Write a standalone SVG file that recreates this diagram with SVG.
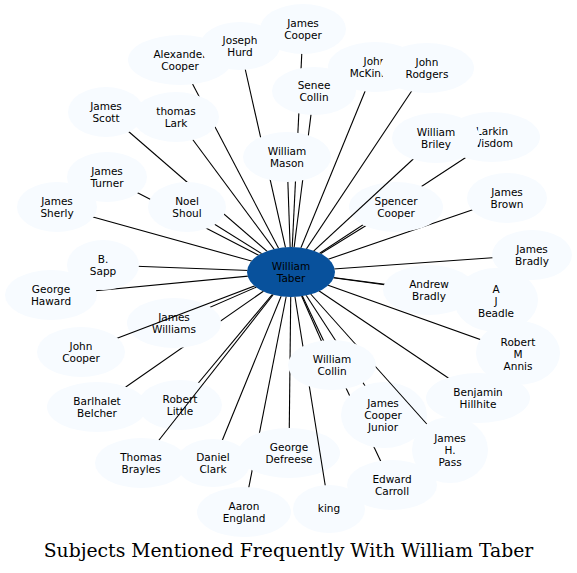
<svg xmlns="http://www.w3.org/2000/svg" width="577" height="573" viewBox="0 0 577 573">
<style>
.n ellipse{fill:#f7fbff;stroke:none}
.n text{font-family:"DejaVu Sans","Liberation Sans",sans-serif;font-size:10.5px;text-anchor:middle;fill:#000}
#taber ellipse{fill:#08519c}
.e line{stroke:#000;stroke-width:1.1;fill:none}
.title{font-family:"DejaVu Serif","Liberation Serif",serif;font-size:18.8px;text-anchor:middle;fill:#000}
</style>
<defs>
<mask id="mAll" maskUnits="userSpaceOnUse" x="0" y="0" width="577" height="573">
<rect width="577" height="573" fill="#fff"/>
<g fill="#000">
<ellipse cx="291" cy="272" rx="44" ry="25"/>
<ellipse cx="180" cy="60" rx="52" ry="25"/>
<ellipse cx="240" cy="46" rx="40" ry="24"/>
<ellipse cx="303" cy="29" rx="43" ry="25"/>
<ellipse cx="314" cy="91" rx="42" ry="24"/>
<ellipse cx="287" cy="157" rx="44" ry="25"/>
<ellipse cx="375" cy="67" rx="47" ry="25"/>
<ellipse cx="427" cy="68" rx="47" ry="25"/>
<ellipse cx="106" cy="112" rx="38" ry="25"/>
<ellipse cx="107" cy="177" rx="40" ry="25"/>
<ellipse cx="176" cy="117" rx="43" ry="25"/>
<ellipse cx="187" cy="207" rx="39" ry="25"/>
<ellipse cx="57" cy="207" rx="40" ry="25"/>
<ellipse cx="492" cy="137" rx="48" ry="25"/>
<ellipse cx="396" cy="207" rx="47" ry="25"/>
<ellipse cx="436" cy="138" rx="44" ry="25"/>
<ellipse cx="507" cy="198" rx="40" ry="25"/>
<ellipse cx="532" cy="255" rx="40" ry="25"/>
<ellipse cx="496" cy="300" rx="42" ry="32"/>
<ellipse cx="429" cy="290" rx="46" ry="25"/>
<ellipse cx="518" cy="353" rx="42" ry="32"/>
<ellipse cx="478" cy="398" rx="52" ry="25"/>
<ellipse cx="392" cy="485" rx="45" ry="25"/>
<ellipse cx="384" cy="415" rx="43" ry="33"/>
<ellipse cx="450" cy="450" rx="38" ry="33"/>
<ellipse cx="244" cy="512" rx="47" ry="25"/>
<ellipse cx="289" cy="453" rx="51" ry="25"/>
<ellipse cx="329" cy="509" rx="36" ry="24"/>
<ellipse cx="332" cy="365" rx="44" ry="25"/>
<ellipse cx="213" cy="463" rx="37" ry="24"/>
<ellipse cx="180" cy="405" rx="42" ry="25"/>
<ellipse cx="141" cy="463" rx="46" ry="25"/>
<ellipse cx="97" cy="407" rx="50" ry="25"/>
<ellipse cx="174" cy="323" rx="47" ry="25"/>
<ellipse cx="81" cy="352" rx="44" ry="25"/>
<ellipse cx="51" cy="295" rx="46" ry="25"/>
<ellipse cx="103" cy="265" rx="36" ry="25"/>
</g>
</mask>
<mask id="mTop" maskUnits="userSpaceOnUse" x="0" y="0" width="577" height="573">
<rect width="577" height="573" fill="#fff"/>
<g fill="#000">
<ellipse cx="291" cy="272" rx="44" ry="25"/>
<ellipse cx="332" cy="365" rx="44" ry="25"/>
<ellipse cx="450" cy="450" rx="38" ry="33"/>
<ellipse cx="329" cy="509" rx="36" ry="24"/>
<ellipse cx="81" cy="352" rx="44" ry="25"/>
<ellipse cx="141" cy="463" rx="46" ry="25"/>
<ellipse cx="436" cy="138" rx="44" ry="25"/>
</g>
</mask>
</defs>
<rect width="577" height="573" fill="#fff"/>
<g id="nodes">
<g id="n-alexander-cooper" class="n"><ellipse cx="180" cy="60" rx="52" ry="25"/><text x="180" y="57.5">Alexander</text><text x="180" y="69.5">Cooper</text></g>
<g id="n-joseph-hurd" class="n"><ellipse cx="240" cy="46" rx="40" ry="24"/><text x="240" y="43.5">Joseph</text><text x="240" y="55.5">Hurd</text></g>
<g id="n-james-cooper" class="n"><ellipse cx="303" cy="29" rx="43" ry="25"/><text x="303" y="26.5">James</text><text x="303" y="38.5">Cooper</text></g>
<g id="n-senee-collin" class="n"><ellipse cx="314" cy="91" rx="42" ry="24"/><text x="314" y="88.5">Senee</text><text x="314" y="100.5">Collin</text></g>
<g id="n-william-mason" class="n"><ellipse cx="287" cy="157" rx="44" ry="25"/><text x="287" y="154.5">William</text><text x="287" y="166.5">Mason</text></g>
<g id="n-john-mckinney" class="n"><ellipse cx="375" cy="67" rx="47" ry="25"/><text x="375" y="64.5">John</text><text x="375" y="76.5">McKinney</text></g>
<g id="n-john-rodgers" class="n"><ellipse cx="427" cy="68" rx="47" ry="25"/><text x="427" y="65.5">John</text><text x="427" y="77.5">Rodgers</text></g>
<g id="n-james-scott" class="n"><ellipse cx="106" cy="112" rx="38" ry="25"/><text x="106" y="109.5">James</text><text x="106" y="121.5">Scott</text></g>
<g id="n-james-turner" class="n"><ellipse cx="107" cy="177" rx="40" ry="25"/><text x="107" y="174.5">James</text><text x="107" y="186.5">Turner</text></g>
<g id="n-thomas-lark" class="n"><ellipse cx="176" cy="117" rx="43" ry="25"/><text x="176" y="114.5">thomas</text><text x="176" y="126.5">Lark</text></g>
<g id="n-noel-shoul" class="n"><ellipse cx="187" cy="207" rx="39" ry="25"/><text x="187" y="204.5">Noel</text><text x="187" y="216.5">Shoul</text></g>
<g id="n-james-sherly" class="n"><ellipse cx="57" cy="207" rx="40" ry="25"/><text x="57" y="204.5">James</text><text x="57" y="216.5">Sherly</text></g>
<g id="n-larkin-wisdom" class="n"><ellipse cx="492" cy="137" rx="48" ry="25"/><text x="492" y="134.5">Larkin</text><text x="492" y="146.5">Wisdom</text></g>
<g id="n-spencer-cooper" class="n"><ellipse cx="396" cy="207" rx="47" ry="25"/><text x="396" y="204.5">Spencer</text><text x="396" y="216.5">Cooper</text></g>
<g id="n-william-briley" class="n"><ellipse cx="436" cy="138" rx="44" ry="25"/><text x="436" y="135.5">William</text><text x="436" y="147.5">Briley</text></g>
<g id="n-james-brown" class="n"><ellipse cx="507" cy="198" rx="40" ry="25"/><text x="507" y="195.5">James</text><text x="507" y="207.5">Brown</text></g>
<g id="n-james-bradly" class="n"><ellipse cx="532" cy="255" rx="40" ry="25"/><text x="532" y="252.5">James</text><text x="532" y="264.5">Bradly</text></g>
<g id="n-a-j-beadle" class="n"><ellipse cx="496" cy="300" rx="42" ry="32"/><text x="496" y="292.5">A</text><text x="496" y="304.5">J</text><text x="496" y="316.5">Beadle</text></g>
<g id="n-andrew-bradly" class="n"><ellipse cx="429" cy="290" rx="46" ry="25"/><text x="429" y="287.5">Andrew</text><text x="429" y="299.5">Bradly</text></g>
<g id="n-robert-m-annis" class="n"><ellipse cx="518" cy="353" rx="42" ry="32"/><text x="518" y="345.5">Robert</text><text x="518" y="357.5">M</text><text x="518" y="369.5">Annis</text></g>
<g id="n-benjamin-hillhite" class="n"><ellipse cx="478" cy="398" rx="52" ry="25"/><text x="478" y="395.5">Benjamin</text><text x="478" y="407.5">Hillhite</text></g>
<g id="n-edward-carroll" class="n"><ellipse cx="392" cy="485" rx="45" ry="25"/><text x="392" y="482.5">Edward</text><text x="392" y="494.5">Carroll</text></g>
<g id="n-james-cooper-junior" class="n"><ellipse cx="384" cy="415" rx="43" ry="33"/><text x="383" y="406.5">James</text><text x="383" y="418.5">Cooper</text><text x="383" y="430.5">Junior</text></g>
<g id="n-james-h-pass" class="n"><ellipse cx="450" cy="450" rx="38" ry="33"/><text x="450" y="441.5">James</text><text x="450" y="453.5">H.</text><text x="450" y="465.5">Pass</text></g>
<g id="n-aaron-england" class="n"><ellipse cx="244" cy="512" rx="47" ry="25"/><text x="244" y="509.5">Aaron</text><text x="244" y="521.5">England</text></g>
<g id="n-george-defreese" class="n"><ellipse cx="289" cy="453" rx="51" ry="25"/><text x="289" y="450.5">George</text><text x="289" y="462.5">Defreese</text></g>
<g id="n-king" class="n"><ellipse cx="329" cy="509" rx="36" ry="24"/><text x="329" y="512">king</text></g>
<g id="n-william-collin" class="n"><ellipse cx="332" cy="365" rx="44" ry="25"/><text x="332" y="362.5">William</text><text x="332" y="374.5">Collin</text></g>
<g id="n-daniel-clark" class="n"><ellipse cx="213" cy="463" rx="37" ry="24"/><text x="213" y="460.5">Daniel</text><text x="213" y="472.5">Clark</text></g>
<g id="n-robert-little" class="n"><ellipse cx="180" cy="405" rx="42" ry="25"/><text x="180" y="402.5">Robert</text><text x="180" y="414.5">Little</text></g>
<g id="n-thomas-brayles" class="n"><ellipse cx="141" cy="463" rx="46" ry="25"/><text x="141" y="460.5">Thomas</text><text x="141" y="472.5">Brayles</text></g>
<g id="n-barlhalet-belcher" class="n"><ellipse cx="97" cy="407" rx="50" ry="25"/><text x="97" y="404.5">Barlhalet</text><text x="97" y="416.5">Belcher</text></g>
<g id="n-james-williams" class="n"><ellipse cx="174" cy="323" rx="47" ry="25"/><text x="174" y="320.5">James</text><text x="174" y="332.5">Williams</text></g>
<g id="n-john-cooper" class="n"><ellipse cx="81" cy="352" rx="44" ry="25"/><text x="81" y="349.5">John</text><text x="81" y="361.5">Cooper</text></g>
<g id="n-george-haward" class="n"><ellipse cx="51" cy="295" rx="46" ry="25"/><text x="51" y="292.5">George</text><text x="51" y="304.5">Haward</text></g>
<g id="n-b-sapp" class="n"><ellipse cx="103" cy="265" rx="36" ry="25"/><text x="103" y="262.5">B.</text><text x="103" y="274.5">Sapp</text></g>
<g id="taber" class="n"><ellipse cx="291" cy="272" rx="44" ry="25"/><text x="291" y="269.5">William</text><text x="291" y="281.5">Taber</text></g>
</g>
<g id="connectors" class="e">
<g mask="url(#mAll)">
<line x1="291" y1="272" x2="180" y2="60"/>
<line x1="291" y1="272" x2="240" y2="46"/>
<line x1="291" y1="272" x2="303" y2="29"/>
<line x1="291" y1="272" x2="314" y2="91"/>
<line x1="291" y1="272" x2="287" y2="157"/>
<line x1="291" y1="272" x2="375" y2="67"/>
<line x1="291" y1="272" x2="427" y2="68"/>
<line x1="291" y1="272" x2="106" y2="112"/>
<line x1="291" y1="272" x2="107" y2="177"/>
<line x1="291" y1="272" x2="176" y2="117"/>
<line x1="291" y1="272" x2="187" y2="207"/>
<line x1="291" y1="272" x2="57" y2="207"/>
<line x1="291" y1="272" x2="497" y2="137"/>
<line x1="291" y1="272" x2="396" y2="207"/>
<line x1="291" y1="272" x2="507" y2="198"/>
<line x1="291" y1="272" x2="532" y2="255"/>
<line x1="291" y1="272" x2="496" y2="300"/>
<line x1="291" y1="272" x2="429" y2="290"/>
<line x1="291" y1="272" x2="518" y2="353"/>
<line x1="291" y1="272" x2="478" y2="398"/>
<line x1="291" y1="272" x2="392" y2="485"/>
<line x1="291" y1="272" x2="384" y2="415"/>
<line x1="291" y1="272" x2="244" y2="512"/>
<line x1="291" y1="272" x2="289" y2="453"/>
<line x1="291" y1="272" x2="332" y2="365"/>
<line x1="291" y1="272" x2="213" y2="463"/>
<line x1="291" y1="272" x2="180" y2="405"/>
<line x1="291" y1="272" x2="97" y2="407"/>
<line x1="291" y1="272" x2="174" y2="323"/>
<line x1="291" y1="272" x2="51" y2="295"/>
<line x1="291" y1="272" x2="103" y2="265"/>
</g>
<g mask="url(#mTop)">
<line x1="291" y1="272" x2="436" y2="138"/>
<line x1="291" y1="272" x2="450" y2="450"/>
<line x1="291" y1="272" x2="329" y2="509"/>
<line x1="291" y1="272" x2="141" y2="463"/>
<line x1="291" y1="272" x2="81" y2="352"/>
</g>
</g>
<text class="title" x="288.5" y="557">Subjects Mentioned Frequently With William Taber</text>
</svg>
